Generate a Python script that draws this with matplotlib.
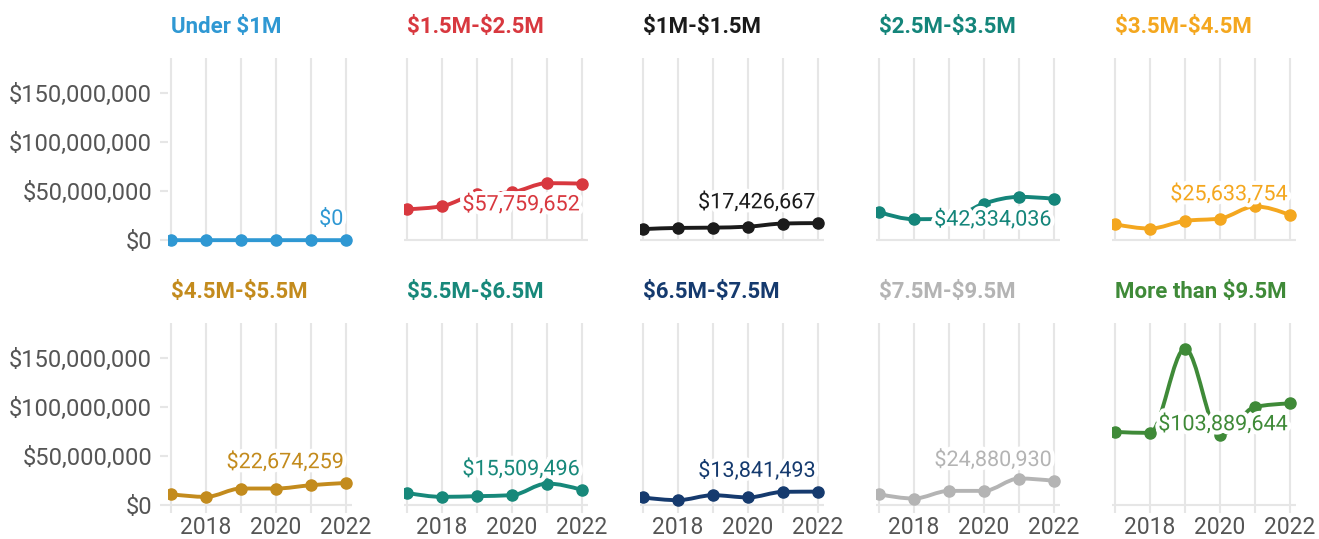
import numpy as np
import matplotlib
matplotlib.use("Agg")
import matplotlib.pyplot as plt
import matplotlib.patheffects as pe
from matplotlib.path import Path
from matplotlib.patches import PathPatch
from matplotlib.ticker import FuncFormatter

plt.rcParams['font.family'] = ['Roboto', 'DejaVu Sans']
plt.rcParams['text.parse_math'] = False

# DATA
years = [2017, 2018, 2019, 2020, 2021, 2022]

titles = ["Under $1M", "$1.5M-$2.5M", "$1M-$1.5M", "$2.5M-$3.5M", "$3.5M-$4.5M",
          "$4.5M-$5.5M", "$5.5M-$6.5M", "$6.5M-$7.5M", "$7.5M-$9.5M", "More than $9.5M"]

under_1m = [0, 0, 0, 0, 0, 0]
m1_5_to_2_5 = [31.6e6, 34.7e6, 47.0e6, 49.0e6, 58.2e6, 57759652]
m1_to_1_5 = [11.3e6, 12.5e6, 12.8e6, 13.8e6, 17.0e6, 17426667]
m2_5_to_3_5 = [28.9e6, 21.4e6, 22.0e6, 37.4e6, 44.2e6, 42334036]
m3_5_to_4_5 = [16.3e6, 11.9e6, 19.7e6, 22.1e6, 34.5e6, 25633754]
m4_5_to_5_5 = [11.2e6, 8.5e6, 17.0e6, 17.0e6, 20.4e6, 22674259]
m5_5_to_6_5 = [12.6e6, 8.5e6, 9.2e6, 10.2e6, 22.1e6, 15509496]
m6_5_to_7_5 = [7.9e6, 5.1e6, 10.2e6, 7.9e6, 13.6e6, 13841493]
m7_5_to_9_5 = [11.2e6, 6.8e6, 14.6e6, 14.6e6, 27.2e6, 24880930]
over_9_5m = [74.8e6, 73.8e6, 159.9e6, 71.4e6, 100.3e6, 103889644]

series = [under_1m, m1_5_to_2_5, m1_to_1_5, m2_5_to_3_5, m3_5_to_4_5,
          m4_5_to_5_5, m5_5_to_6_5, m6_5_to_7_5, m7_5_to_9_5, over_9_5m]

yticks = [0, 50e6, 100e6, 150e6]
xticks = [2018, 2020, 2022]

# STYLE
colors = ["#2f98d3", "#d8383f", "#1b1b1b", "#14857a", "#f4a71f",
          "#c38b1d", "#17887a", "#153a6e", "#b4b4b4", "#3f8a38"]
label_side = [1, -1, 1, -1, 1, 1, 1, 1, 1, -1]   # 1 = above last point, -1 = below
grid_c = "#e6e6e6"
tick_c = "#555555"


def monotone_path(x, y):
    # monotone cubic curve (like d3 curveMonotoneX) built as bezier segments
    x = np.asarray(x, float)
    y = np.asarray(y, float)
    n = len(x)
    h = np.diff(x)
    s = np.diff(y) / h
    t = np.zeros(n)
    for i in range(1, n - 1):
        p = (s[i - 1] * h[i] + s[i] * h[i - 1]) / (h[i - 1] + h[i])
        t[i] = (np.sign(s[i - 1]) + np.sign(s[i])) * min(abs(s[i - 1]), abs(s[i]), 0.5 * abs(p))
    t[0] = (3 * s[0] - t[1]) / 2
    t[-1] = (3 * s[-1] - t[-2]) / 2
    verts = [(x[0], y[0])]
    codes = [Path.MOVETO]
    for i in range(n - 1):
        dx = h[i] / 3
        verts += [(x[i] + dx, y[i] + dx * t[i]), (x[i + 1] - dx, y[i + 1] - dx * t[i + 1]), (x[i + 1], y[i + 1])]
        codes += [Path.CURVE4] * 3
    return Path(verts, codes)


money = FuncFormatter(lambda v, pos: "${:,.0f}".format(v))

W, H = 1319, 539
fig = plt.figure(figsize=(W / 100, H / 100), dpi=100)
fig.patch.set_facecolor("white")

col_left = [167.5 + 236 * i for i in range(5)]
row_top = [58, 323]
ax_w, ax_h = 184.5, 190
ymin, ymax = -8e6, 186e6

for k in range(10):
    r, c = divmod(k, 5)
    ax = fig.add_axes([col_left[c] / W, 1 - (row_top[r] + ax_h) / H, ax_w / W, ax_h / H])
    ax.set_xlim(2016.9, 2022.17)
    ax.set_ylim(ymin, ymax)
    for sp in ax.spines.values():
        sp.set_visible(False)
    ax.set_facecolor("none")

    # grid + baseline
    ax.vlines(years, 0 if r == 0 else ymin, ymax, color=grid_c, lw=1.5, zorder=0)
    ax.axhline(0, color=grid_c, lw=1.5, zorder=0)

    # y axis
    ax.set_yticks(yticks)
    ax.yaxis.set_major_formatter(money)
    if c == 0:
        ax.tick_params(axis="y", length=6, width=1.5, color=grid_c, pad=5,
                       labelsize=17, labelcolor=tick_c)
    else:
        ax.tick_params(axis="y", length=0, labelleft=False)

    # x axis
    ax.set_xticks(xticks)
    if r == 1:
        ax.tick_params(axis="x", length=0, pad=2.5, labelsize=16.5, labelcolor=tick_c)
    else:
        ax.tick_params(axis="x", length=0, labelbottom=False)

    vals = series[k]
    col = colors[k]
    ax.add_patch(PathPatch(monotone_path(years, vals), facecolor="none", edgecolor=col,
                           lw=2.8, capstyle="round", joinstyle="round", zorder=3))
    ax.plot(years, vals, "o", color=col, markersize=8, zorder=4)

    ax.annotate("${:,.0f}".format(vals[-1]), xy=(years[-1], vals[-1]),
                xytext=(-2, 15 * label_side[k]), textcoords="offset points",
                ha="right", va="center", fontsize=15.5, color=col, zorder=5,
                path_effects=[pe.withStroke(linewidth=6, foreground="white")])

    ax.text(years[0], 1 + 31 / ax_h, titles[k], transform=ax.get_xaxis_transform(),
            ha="left", va="center", fontsize=16, fontweight="bold", color=col)

fig.savefig("out.png", dpi=100)
